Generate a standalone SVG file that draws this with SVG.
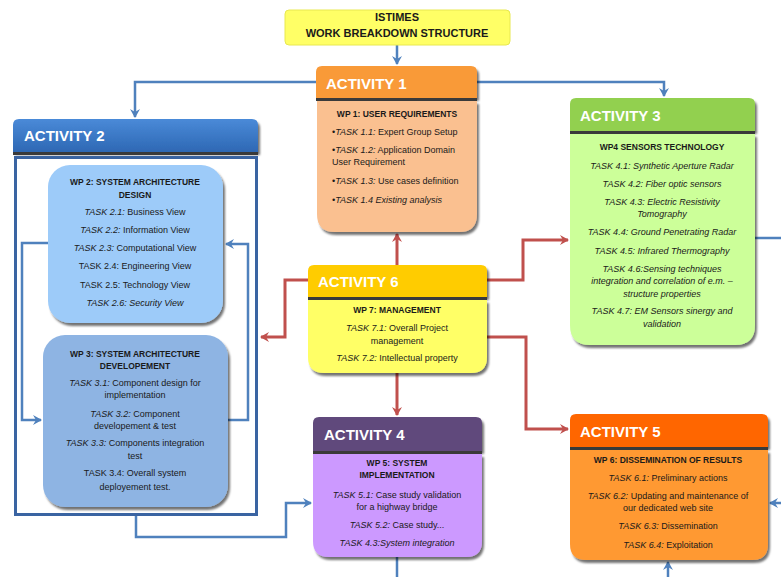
<svg xmlns="http://www.w3.org/2000/svg" width="781" height="577" viewBox="0 0 781 577">
<defs>
<filter id="sh" x="-10%" y="-10%" width="125%" height="125%">
<feDropShadow dx="2" dy="3" stdDeviation="1.2" flood-color="#000" flood-opacity="0.55"/>
</filter>
<marker id="ab" markerUnits="userSpaceOnUse" markerWidth="12" markerHeight="12" refX="9" refY="6" orient="auto">
<path d="M1,1 L10,6 L1,11 L4,6 Z" fill="#4F81BD"/>
</marker>
<marker id="ar" markerUnits="userSpaceOnUse" markerWidth="12" markerHeight="12" refX="9" refY="6" orient="auto">
<path d="M1,1 L10,6 L1,11 L4,6 Z" fill="#C0504D"/>
</marker>
<linearGradient id="g2" x1="0" y1="0" x2="0" y2="1">
<stop offset="0" stop-color="#4A8AD8"/><stop offset="1" stop-color="#2E68B4"/>
</linearGradient>
</defs>
<style>
.t{font-family:"Liberation Sans",Arial,sans-serif;font-size:9px;fill:#1a1a1a}
.c{text-anchor:middle}
.b{font-weight:bold;font-size:8.5px}
.i{font-style:italic}
.h{font-family:"Liberation Sans",Arial,sans-serif;font-size:15px;font-weight:bold;fill:#fff}
.sep{stroke:#3a3a3a;stroke-width:3}
.cb{fill:none;stroke:#4F81BD;stroke-width:2.5}
.cr{fill:none;stroke:#C0504D;stroke-width:3}
</style>

<g id="connectors">
<path class="cb" d="M397,45 V64" stroke-width="3.5" marker-end="url(#ab)"/>
<path class="cb" d="M316,82 H135 V117" marker-end="url(#ab)"/>
<path class="cb" d="M477,82 H664 V96" marker-end="url(#ab)"/>
<path class="cb" d="M48,243 H22 V420 H41" marker-end="url(#ab)"/>
<path class="cb" d="M228,420 H248 V244 H226" marker-end="url(#ab)"/>
<path class="cb" d="M136,516 V537 H286 V503 H311" marker-end="url(#ab)"/>
<path class="cb" d="M755,238 H781"/>
<path class="cb" d="M781,503 H770" marker-end="url(#ab)"/>
<path class="cb" d="M397,557 V577"/>
<path class="cb" d="M668,577 V562" marker-end="url(#ab)"/>
<path class="cr" d="M397,265 V234" marker-end="url(#ar)"/>
<path class="cr" d="M308,280 H285 V337 H261" marker-end="url(#ar)"/>
<path class="cr" d="M487,280 H523 V240 H568" marker-end="url(#ar)"/>
<path class="cr" d="M487,337 H526 V429 H568" marker-end="url(#ar)"/>
<path class="cr" d="M397,373 V415" marker-end="url(#ar)"/>
</g>

<g id="title">
<rect x="285" y="10" width="225" height="35" rx="4" fill="#FFFF66" stroke="#E8E850" stroke-width="1"/>
<text class="t c" x="397" y="21" style="font-weight:bold;font-size:11px">ISTIMES</text>
<text class="t c" x="397" y="37" style="font-weight:bold;font-size:11px">WORK BREAKDOWN STRUCTURE</text>
</g>

<g id="activity1">
<g filter="url(#sh)">
<path d="M316,98 V72 Q316,66 322,66 H471 Q477,66 477,72 V98 Z" fill="#F99A38"/>
<path d="M317,101 H477 V214 Q477,232 459,232 H335 Q317,232 317,214 Z" fill="#FAC090"/>
</g>
<line class="sep" x1="316" y1="99.5" x2="477" y2="99.5"/>
<text class="h" x="326" y="89">ACTIVITY 1</text>
<text class="t c b" x="397" y="117">WP 1: USER REQUIREMENTS</text>
<text class="t" x="332" y="135">•<tspan class="i">TASK 1.1:</tspan> Expert Group Setup</text>
<text class="t" x="332" y="153">•<tspan class="i">TASK 1.2:</tspan> Application Domain</text>
<text class="t" x="332" y="165">User Requirement</text>
<text class="t" x="332" y="184">•<tspan class="i">TASK 1.3:</tspan> Use cases definition</text>
<text class="t i" x="332" y="203">•TASK 1.4 Existing analysis</text>
</g>

<g id="activity2">
<path d="M13,152 V125 Q13,119 19,119 H252 Q258,119 258,125 V152 Z" fill="url(#g2)" filter="url(#sh)"/>
<line class="sep" x1="13" y1="153.5" x2="258" y2="153.5"/>
<text class="h" x="24" y="141">ACTIVITY 2</text>
<rect x="15.5" y="157.5" width="241" height="357" fill="none" stroke="#3A64A2" stroke-width="3"/>
</g>

<g id="wp2">
<rect x="48" y="165" width="175" height="158" rx="22" fill="#9DCBF9" filter="url(#sh)"/>
<text class="t c b" x="135" y="185">WP 2: SYSTEM ARCHITECTURE</text>
<text class="t c b" x="135" y="198">DESIGN</text>
<text class="t c" x="135" y="215"><tspan class="i">TASK 2.1:</tspan> Business View</text>
<text class="t c" x="135" y="233"><tspan class="i">TASK 2.2:</tspan> Information  View</text>
<text class="t c" x="135" y="251"><tspan class="i">TASK 2.3:</tspan> Computational View</text>
<text class="t c" x="135" y="269">TASK 2.4: Engineering View</text>
<text class="t c" x="135" y="288">TASK 2.5: Technology View</text>
<text class="t c i" x="135" y="306">TASK 2.6: Security View</text>
</g>

<g id="wp3">
<rect x="43" y="335" width="185" height="172" rx="22" fill="#8EB4E3" filter="url(#sh)"/>
<text class="t c b" x="135" y="357">WP 3: SYSTEM ARCHITECTURE</text>
<text class="t c b" x="135" y="369">DEVELOPEMENT</text>
<text class="t c" x="135" y="386"><tspan class="i">TASK 3.1:</tspan> Component design for</text>
<text class="t c" x="135" y="398">implementation</text>
<text class="t c" x="135" y="417"><tspan class="i">TASK 3.2:</tspan> Component</text>
<text class="t c" x="135" y="429">developement &amp; test</text>
<text class="t c" x="135" y="446"><tspan class="i">TASK 3.3:</tspan> Components integration</text>
<text class="t c" x="135" y="459">test</text>
<text class="t c" x="135" y="476">TASK 3.4: Overall system</text>
<text class="t c" x="135" y="490">deployement test.</text>
</g>

<g id="activity3">
<g filter="url(#sh)">
<path d="M570,131 V104 Q570,98 576,98 H749 Q755,98 755,104 V131 Z" fill="#92D050"/>
<path d="M570,134 H755 V325 Q755,345 735,345 H590 Q570,345 570,325 Z" fill="#CCFF99"/>
</g>
<line class="sep" x1="570" y1="132.5" x2="755" y2="132.5"/>
<text class="h" x="580" y="121">ACTIVITY 3</text>
<text class="t c b" x="662" y="150">WP4 SENSORS TECHNOLOGY</text>
<text class="t c i" x="662" y="169">TASK 4.1: Synthetic Aperture Radar</text>
<text class="t c i" x="662" y="187">TASK 4.2: Fiber optic sensors</text>
<text class="t c i" x="662" y="205">TASK 4.3: Electric Resistivity</text>
<text class="t c i" x="662" y="217">Tomography</text>
<text class="t c i" x="662" y="235">TASK 4.4: Ground  Penetrating Radar</text>
<text class="t c i" x="662" y="254">TASK 4.5: Infrared Thermography</text>
<text class="t c i" x="662" y="272">TASK 4.6:Sensing techniques</text>
<text class="t c i" x="662" y="284">integration and correlation of e.m. –</text>
<text class="t c i" x="662" y="297">structure properties</text>
<text class="t c i" x="662" y="314">TASK 4.7: EM Sensors sinergy and</text>
<text class="t c i" x="662" y="327">validation</text>
</g>

<g id="activity6">
<g filter="url(#sh)">
<path d="M308,297 V271 Q308,265 314,265 H481 Q487,265 487,271 V297 Z" fill="#FFCC00"/>
<path d="M308,300 H487 V357 Q487,373 471,373 H324 Q308,373 308,357 Z" fill="#FFFF66"/>
</g>
<line class="sep" x1="308" y1="298.5" x2="487" y2="298.5"/>
<text class="h" x="318" y="287">ACTIVITY 6</text>
<text class="t c b" x="397" y="313">WP 7: MANAGEMENT</text>
<text class="t c" x="397" y="331"><tspan class="i">TASK 7.1:</tspan> Overall Project</text>
<text class="t c" x="397" y="344">management</text>
<text class="t c" x="397" y="361"><tspan class="i">TASK 7.2:</tspan> Intellectual property</text>
</g>

<g id="activity4">
<g filter="url(#sh)">
<path d="M313,451 V423 Q313,417 319,417 H476 Q482,417 482,423 V451 Z" fill="#604A7B"/>
<path d="M313,454 H482 V541 Q482,557 466,557 H329 Q313,557 313,541 Z" fill="#CC99FF"/>
</g>
<line class="sep" x1="313" y1="452.5" x2="482" y2="452.5"/>
<text class="h" x="324" y="440">ACTIVITY 4</text>
<text class="t c b" x="397" y="466">WP 5: SYSTEM</text>
<text class="t c b" x="397" y="478">IMPLEMENTATION</text>
<text class="t c" x="397" y="498"><tspan class="i">TASK 5.1:</tspan> Case study validation</text>
<text class="t c" x="397" y="510">for a highway bridge</text>
<text class="t c" x="397" y="528"><tspan class="i">TASK 5.2:</tspan> Case study...</text>
<text class="t c" x="397" y="546"><tspan class="i">TASK 4.3:System integration</tspan></text>
</g>

<g id="activity5">
<g filter="url(#sh)">
<path d="M570,447 V420 Q570,414 576,414 H762 Q768,414 768,420 V447 Z" fill="#FF6600"/>
<path d="M570,450 H768 V544 Q768,560 752,560 H586 Q570,560 570,544 Z" fill="#FF9933"/>
</g>
<line class="sep" x1="570" y1="448.5" x2="768" y2="448.5"/>
<text class="h" x="580" y="437">ACTIVITY 5</text>
<text class="t c b" x="668" y="463">WP 6: DISSEMINATION OF RESULTS</text>
<text class="t c" x="668" y="481"><tspan class="i">TASK 6.1:</tspan> Preliminary actions</text>
<text class="t c" x="668" y="499"><tspan class="i">TASK 6.2:</tspan> Updating and maintenance of</text>
<text class="t c" x="668" y="511">our dedicated web site</text>
<text class="t c" x="668" y="529"><tspan class="i">TASK 6.3:</tspan> Dissemination</text>
<text class="t c" x="668" y="548"><tspan class="i">TASK 6.4:</tspan> Exploitation</text>
</g>
</svg>
